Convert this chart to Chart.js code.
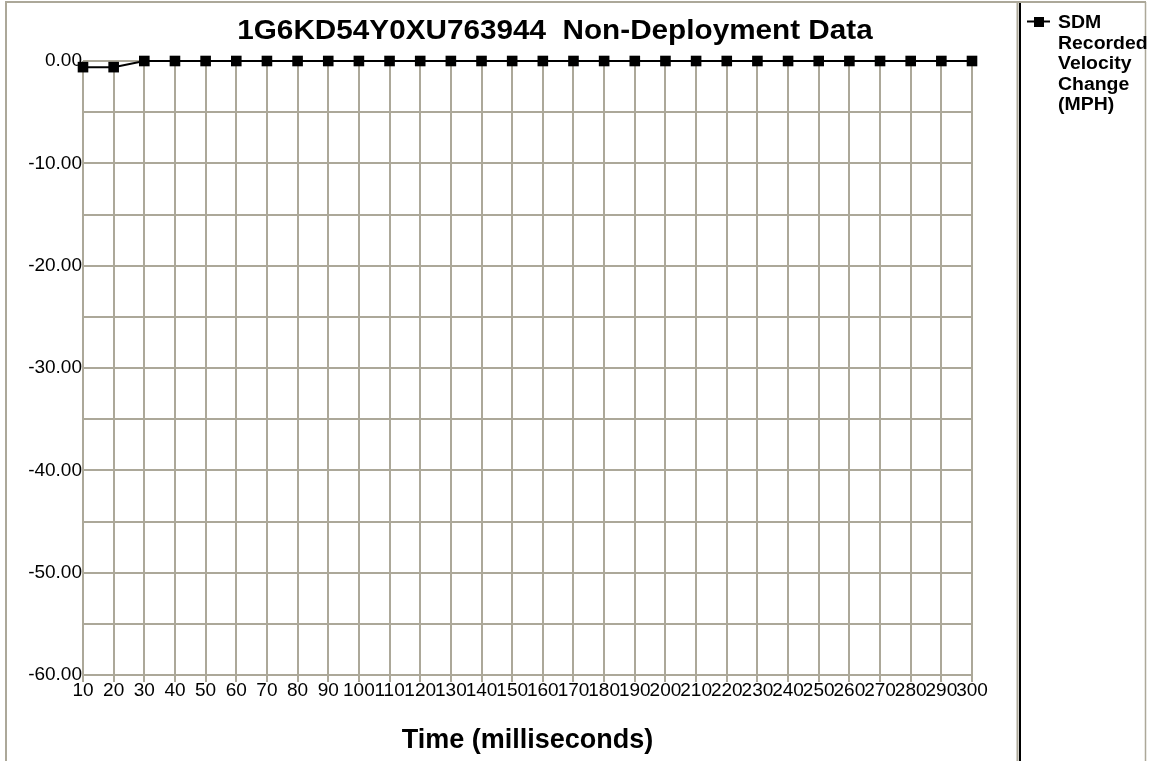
<!DOCTYPE html>
<html>
<head>
<meta charset="utf-8">
<title>SDM Non-Deployment Data</title>
<script src="https://cdn.jsdelivr.net/npm/chart.js@4.4.1/dist/chart.umd.min.js"></script>
<style>
html, body { margin: 0; padding: 0; background: #ffffff; }
#wrap { width: 1151px; height: 761px; position: relative; }
</style>
</head>
<body>
<div id="wrap"><canvas id="sdmChart" width="1151" height="761"></canvas></div>
<script>
// chart data
var chartTitle = '1G6KD54Y0XU763944  Non-Deployment Data';
var xAxisTitle = 'Time (milliseconds)';
var timeLabels = ['10', '20', '30', '40', '50', '60', '70', '80', '90', '100',
                  '110', '120', '130', '140', '150', '160', '170', '180', '190', '200',
                  '210', '220', '230', '240', '250', '260', '270', '280', '290', '300'];
var velocityChange = [-0.6, -0.6, 0, 0, 0, 0, 0, 0, 0, 0,
                      0, 0, 0, 0, 0, 0, 0, 0, 0, 0,
                      0, 0, 0, 0, 0, 0, 0, 0, 0, 0];
var seriesName = ['SDM', 'Recorded', 'Velocity', 'Change', '(MPH)'];
var yMin = -60;
var yMax = 0;
var yStep = 5;

var gridColor = '#aca899';
var fontFamily = 'Arial, "Liberation Sans", Helvetica, sans-serif';

// frame lines behind the chart
var framePlugin = {
    id: 'frame',
    beforeDraw: function(chart) {
        var ctx = chart.ctx;
        ctx.save();
        ctx.strokeStyle = gridColor;
        ctx.lineWidth = 2;
        ctx.beginPath();
        ctx.moveTo(5, 2);
        ctx.lineTo(1146, 2);
        ctx.moveTo(6, 2);
        ctx.lineTo(6, 761);
        ctx.moveTo(1017.5, 2);
        ctx.lineTo(1017.5, 761);
        ctx.stroke();
        ctx.lineWidth = 1.5;
        ctx.beginPath();
        ctx.moveTo(1145.5, 2);
        ctx.lineTo(1145.5, 761);
        ctx.stroke();
        ctx.strokeStyle = '#000000';
        ctx.lineWidth = 2;
        ctx.beginPath();
        ctx.moveTo(1020, 3);
        ctx.lineTo(1020, 761);
        ctx.stroke();
        ctx.restore();
    }
};

// title and legend on top
var textPlugin = {
    id: 'texts',
    afterDraw: function(chart) {
        var ctx = chart.ctx;
        ctx.save();
        ctx.fillStyle = '#000000';
        ctx.textBaseline = 'middle';
        ctx.textAlign = 'center';
        ctx.font = 'bold 27px ' + fontFamily;
        ctx.translate(555, 32);
        ctx.scale(1.1, 1);
        ctx.fillText(chartTitle, 0, 0);
        ctx.restore();

        // legend
        ctx.save();
        ctx.strokeStyle = '#000000';
        ctx.lineWidth = 2;
        ctx.beginPath();
        ctx.moveTo(1027, 21.5);
        ctx.lineTo(1050, 21.5);
        ctx.stroke();
        ctx.fillStyle = '#000000';
        ctx.fillRect(1034, 17, 10, 10);
        ctx.font = 'bold 18px ' + fontFamily;
        ctx.textBaseline = 'alphabetic';
        ctx.textAlign = 'left';
        for (var i = 0; i < seriesName.length; i++) {
            ctx.save();
            ctx.translate(1058, 28 + i * 20.5);
            ctx.scale(1.08, 1);
            ctx.fillText(seriesName[i], 0, 0);
            ctx.restore();
        }
        ctx.restore();
    }
};

var ctx = document.getElementById('sdmChart').getContext('2d');
var sdmChart = new Chart(ctx, {
    type: 'line',
    data: {
        labels: timeLabels,
        datasets: [{
            label: seriesName.join(' '),
            data: velocityChange,
            borderColor: '#000000',
            backgroundColor: '#000000',
            borderWidth: 2,
            pointStyle: 'rect',
            pointRadius: 7.5,
            pointBorderWidth: 0,
            pointHoverRadius: 7.5,
            tension: 0,
            clip: false
        }]
    },
    options: {
        responsive: false,
        animation: false,
        layout: { padding: { left: 0, right: 179, top: 61, bottom: 0 } },
        plugins: {
            legend: { display: false },
            title: { display: false },
            tooltip: { enabled: false }
        },
        scales: {
            x: {
                type: 'category',
                offset: false,
                afterFit: function(scale) { scale.height = 86; },
                grid: {
                    color: gridColor,
                    lineWidth: 2,
                    tickLength: 7,
                    offset: false
                },
                border: { display: false },
                ticks: {
                    autoSkip: false,
                    maxRotation: 0,
                    minRotation: 0,
                    padding: -1,
                    color: '#000000',
                    font: { family: fontFamily, size: 19, lineHeight: 1 }
                },
                title: {
                    display: true,
                    text: xAxisTitle,
                    color: '#000000',
                    font: { family: fontFamily, size: 27, weight: 'bold', lineHeight: 1 },
                    padding: { top: 0, bottom: 7 }
                }
            },
            y: {
                min: yMin,
                max: yMax,
                afterFit: function(scale) { scale.width = 83; },
                grid: {
                    color: gridColor,
                    lineWidth: 2,
                    drawTicks: false,
                    tickLength: 0
                },
                border: { display: false },
                ticks: {
                    stepSize: yStep,
                    padding: 1,
                    color: '#000000',
                    font: { family: fontFamily, size: 19 },
                    callback: function(value) {
                        return value % 10 === 0 ? value.toFixed(2) : '';
                    }
                }
            }
        }
    },
    plugins: [framePlugin, textPlugin]
});
</script>
</body>
</html>
